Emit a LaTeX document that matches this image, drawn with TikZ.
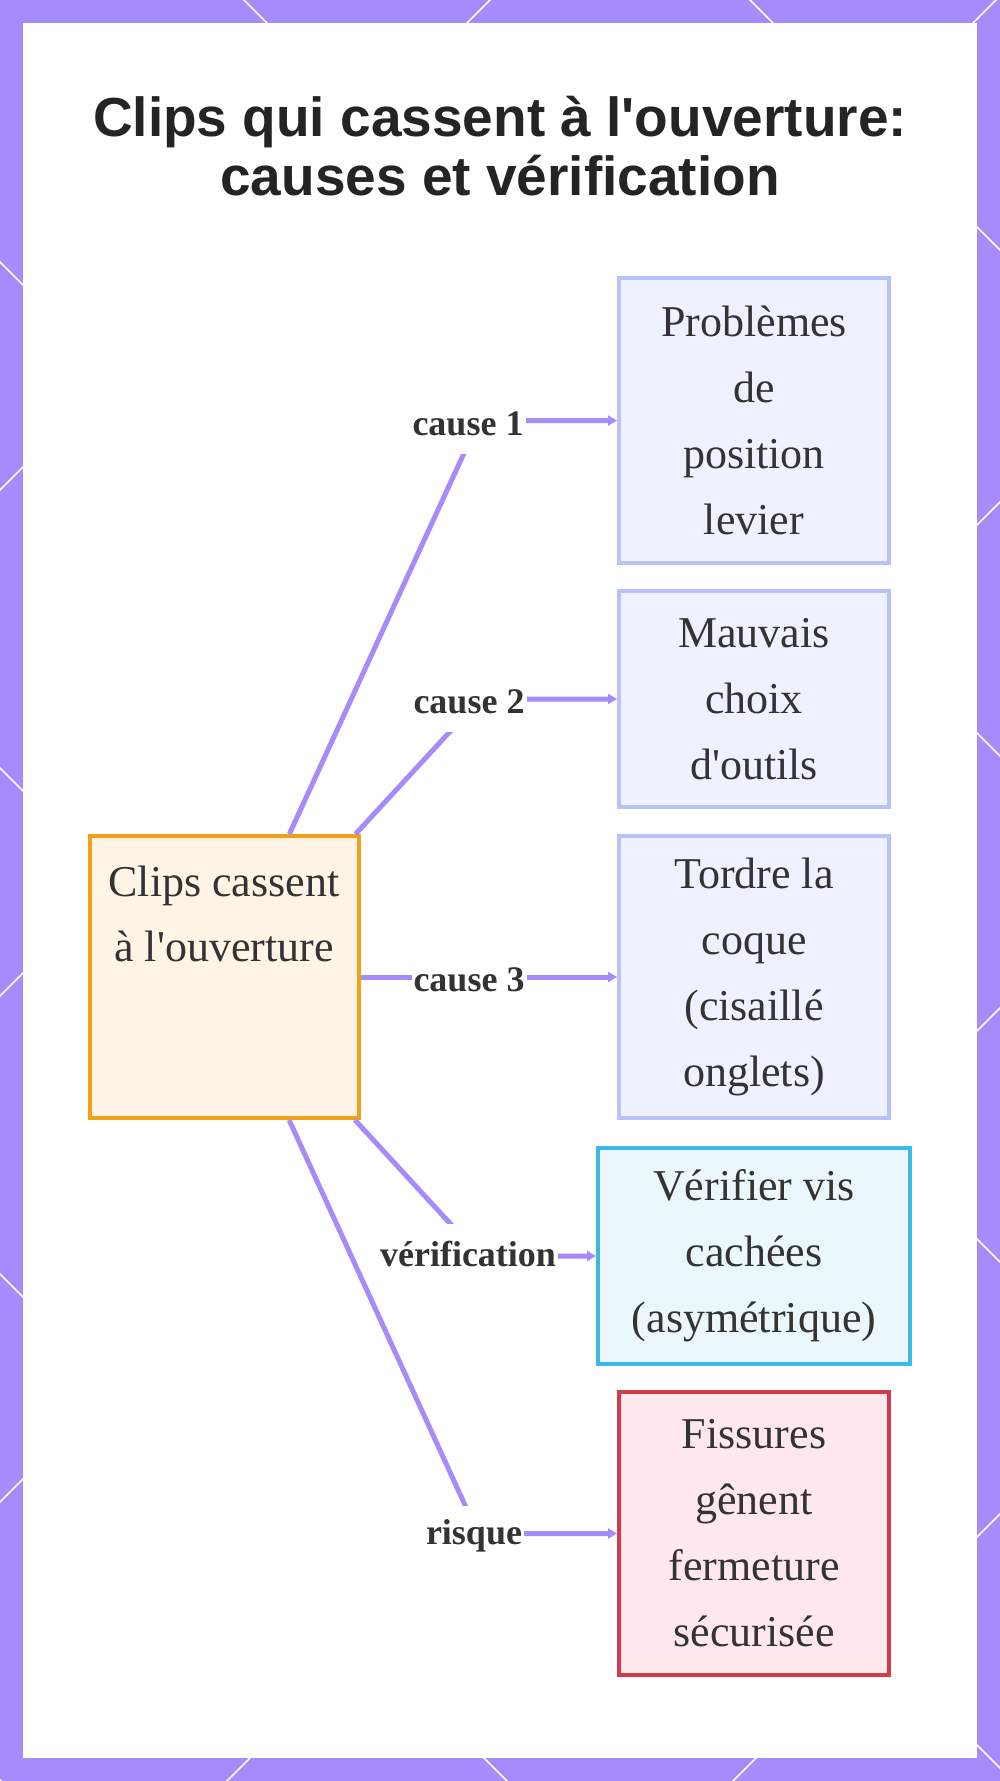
\documentclass[tikz,border=0pt]{standalone}
\usepackage{fontspec}
\setmainfont{Liberation Serif}[Ligatures=TeXOff]
\newfontfamily\titlefont{Liberation Sans}
\usepackage{xcolor}
\definecolor{vpurple}{RGB}{167,139,250}
\definecolor{vorange}{RGB}{242,160,22}
\definecolor{vcream}{RGB}{255,244,230}
\definecolor{vblue}{RGB}{184,194,248}
\definecolor{vbluebg}{RGB}{238,241,255}
\definecolor{vcyan}{RGB}{61,185,233}
\definecolor{vcyanbg}{RGB}{235,246,253}
\definecolor{vred}{RGB}{209,59,76}
\definecolor{vredbg}{RGB}{255,232,236}
\definecolor{vtext}{RGB}{51,51,51}
\usetikzlibrary{arrows.meta}

\begin{document}
\begin{tikzpicture}[x=0.5pt,y=-0.5pt,
  box/.style={draw,line width=2pt,align=center,text=vtext,inner sep=0pt,font=\fontsize{22}{33}\selectfont},
  txt/.style={align=center,text=vtext,font=\fontsize{22}{32.5}\selectfont},
  lbl/.style={fill=white,text=vtext,font=\fontsize{18}{20}\selectfont\bfseries,inner xsep=1pt,inner ysep=0pt,minimum height=30pt},
  edge/.style={vpurple,line width=2.5pt,-{Triangle[length=4.5pt,width=5pt]}}]
  \useasboundingbox (0,0) rectangle (1000,1781);
  % frame with its white diagonals
  \fill[vpurple] (0,0) rectangle (1000,1781);
  \begin{scope}
    \clip (0,0) rectangle (1000,1781);
    \foreach \c in {-1780,-1274,...,1256}
      \draw[white,line width=0.8pt] ({\c-50},-50) -- ({\c+1850},1850);
    \foreach \c in {-16,490,...,3020}
      \draw[white,line width=0.8pt] ({\c+50},-50) -- ({\c-1850},1850);
  \end{scope}
  \fill[white] (23,23) rectangle (977,1758);
  % title
  \node[font=\titlefont\fontsize{27.5}{29.5}\selectfont\bfseries,text=vtext!70!black,align=center] (title) at (500,146) {Clips qui cassent à l'ouverture:\\causes et vérification};
  % nodes
  \node[box,draw=vorange,fill=vcream,minimum width=134.5pt,minimum height=141pt] (clips) at (224,977) {};
  \node[txt] (clipstxt) at (224,914) {Clips cassent\\à l'ouverture};
  \node[box,draw=vblue,fill=vbluebg,minimum width=135pt,minimum height=142.5pt] (prob) at (754,420.5) {Problèmes\\de\\position\\levier};
  \node[box,draw=vblue,fill=vbluebg,minimum width=135pt,minimum height=108pt] (outil) at (754,699) {Mauvais\\choix\\d'outils};
  \node[box,draw=vblue,fill=vbluebg,minimum width=135pt,minimum height=141pt] (coque) at (754,977) {Tordre la\\coque\\(cisaillé\\onglets)};
  \node[box,draw=vcyan,fill=vcyanbg,minimum width=156pt,minimum height=108pt] (verif) at (754,1256) {Vérifier vis\\cachées\\(asymétrique)};
  \node[box,draw=vred,fill=vredbg,minimum width=135pt,minimum height=141.5pt] (fiss) at (754,1533.5) {Fissures\\gênent\\fermeture\\sécurisée};
  % edges
  \coordinate (b1) at (479,420.5);
  \coordinate (b2) at (480,699);
  \coordinate (b4) at (480,1256);
  \coordinate (b5) at (478,1533.5);
  \draw[edge] (clips) -- (b1) -- (prob);
  \draw[edge] (clips) -- (b2) -- (outil);
  \draw[edge] (clips) -- (coque);
  \draw[edge] (clips) -- (b4) -- (verif);
  \draw[edge] (clips) -- (b5) -- (fiss);
  % edge labels
  \node[lbl] (l1) at (468,424) {cause 1};
  \node[lbl] (l2) at (469,702) {cause 2};
  \node[lbl] (l3) at (469,980) {cause 3};
  \node[lbl] (l4) at (468,1254) {vérification};
  \node[lbl] (l5) at (474,1536) {risque};
\end{tikzpicture}
\end{document}
